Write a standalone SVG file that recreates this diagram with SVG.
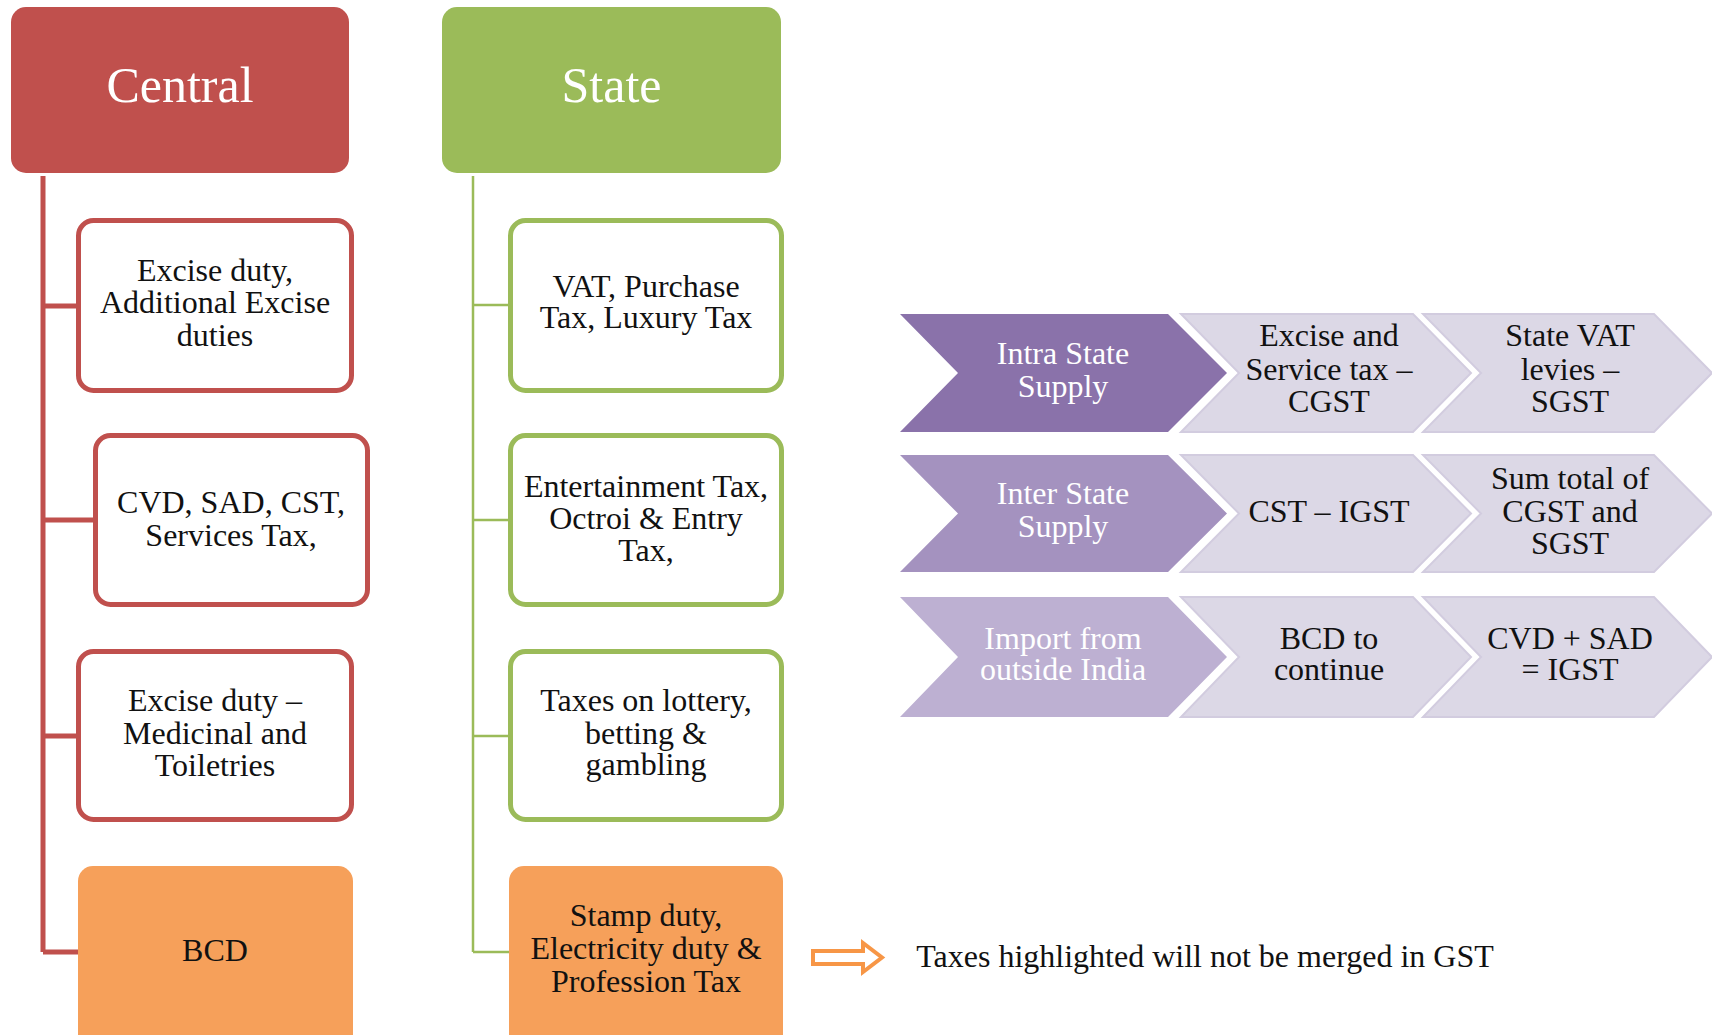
<svg xmlns="http://www.w3.org/2000/svg" width="1712" height="1035" viewBox="0 0 1712 1035">
  <style>
    text { font-family: "Liberation Serif", "Times New Roman", serif; text-anchor: middle; }
    .hdr { font-size: 50px; fill: #ffffff; }
    .lbl { font-size: 32px; fill: #111111; }
    .wlbl { font-size: 32px; fill: #ffffff; }
    .central-head { fill: #C0504D; }
    .state-head { fill: #9BBB59; }
    .c-box { fill: #ffffff; stroke: #C0504D; stroke-width: 5; }
    .s-box { fill: #ffffff; stroke: #9BBB59; stroke-width: 5; }
    .keep { fill: #F6A05A; }
    .c-line { stroke: #C0504D; stroke-width: 5; fill: none; }
    .s-line { stroke: #9BBB59; stroke-width: 2.5; fill: none; }
    .chev-1 { fill: #8A72AA; }
    .chev-2 { fill: #A492BF; }
    .chev-3 { fill: #BDB0D2; }
    .chev-l { fill: #DCD8E6; stroke: #D2CCDF; stroke-width: 2; }
  </style>

  <!-- tree connectors -->
  <g id="connectors">
    <path class="c-line" d="M43,176 V952 M43,306 H78 M43,520 H95 M43,736 H78 M43,952 H80"/>
    <path class="s-line" d="M473,176 V952 M473,305 H510 M473,520 H510 M473,736 H510 M473,952 H510"/>
  </g>

  <!-- Central column -->
  <g id="central">
    <rect class="central-head" x="11" y="7" width="338" height="166" rx="15"/>
    <text class="hdr" x="180" y="102">Central</text>
  </g>
  <g id="central-excise">
    <rect class="c-box" x="78.5" y="220.5" width="273" height="170" rx="15"/>
    <text class="lbl" x="215" y="281">Excise duty,</text>
    <text class="lbl" x="215" y="313">Additional Excise</text>
    <text class="lbl" x="215" y="346">duties</text>
  </g>
  <g id="central-cvd">
    <rect class="c-box" x="95.5" y="435.5" width="272" height="169" rx="15"/>
    <text class="lbl" x="231" y="513">CVD, SAD, CST,</text>
    <text class="lbl" x="231" y="546">Services Tax,</text>
  </g>
  <g id="central-medicinal">
    <rect class="c-box" x="78.5" y="651.5" width="273" height="168" rx="15"/>
    <text class="lbl" x="215" y="711">Excise duty –</text>
    <text class="lbl" x="215" y="744">Medicinal and</text>
    <text class="lbl" x="215" y="776">Toiletries</text>
  </g>
  <g id="central-bcd">
    <rect class="keep" x="78" y="866" width="275" height="190" rx="15"/>
    <text class="lbl" x="215" y="961">BCD</text>
  </g>

  <!-- State column -->
  <g id="state">
    <rect class="state-head" x="442" y="7" width="339" height="166" rx="15"/>
    <text class="hdr" x="611.5" y="102">State</text>
  </g>
  <g id="state-vat">
    <rect class="s-box" x="510.5" y="220.5" width="271" height="170" rx="15"/>
    <text class="lbl" x="646" y="297">VAT, Purchase</text>
    <text class="lbl" x="646" y="328">Tax, Luxury Tax</text>
  </g>
  <g id="state-entertainment">
    <rect class="s-box" x="510.5" y="435.5" width="271" height="169" rx="15"/>
    <text class="lbl" x="646" y="497">Entertainment Tax,</text>
    <text class="lbl" x="646" y="529">Octroi &amp; Entry</text>
    <text class="lbl" x="646" y="561">Tax,</text>
  </g>
  <g id="state-lottery">
    <rect class="s-box" x="510.5" y="651.5" width="271" height="168" rx="15"/>
    <text class="lbl" x="646" y="711">Taxes on lottery,</text>
    <text class="lbl" x="646" y="744">betting &amp;</text>
    <text class="lbl" x="646" y="775">gambling</text>
  </g>
  <g id="state-stamp">
    <rect class="keep" x="509" y="866" width="274" height="190" rx="15"/>
    <text class="lbl" x="646" y="926">Stamp duty,</text>
    <text class="lbl" x="646" y="959">Electricity duty &amp;</text>
    <text class="lbl" x="646" y="992">Profession Tax</text>
  </g>

  <!-- Supply rows: category chevron followed by two result chevrons -->
  <g id="intra-state">
    <polygon class="chev-1" points="900,314 1168,314 1227,373 1168,432 900,432 958,373"/>
    <text class="wlbl" x="1063" y="364">Intra State</text>
    <text class="wlbl" x="1063" y="397">Supply</text>
  </g>
  <g id="intra-cgst">
    <polygon class="chev-l" points="1181,314 1413,314 1471,373 1413,432 1181,432 1239,373"/>
    <text class="lbl" x="1329" y="346">Excise and</text>
    <text class="lbl" x="1329" y="380">Service tax –</text>
    <text class="lbl" x="1329" y="412">CGST</text>
  </g>
  <g id="intra-sgst">
    <polygon class="chev-l" points="1423,314 1654,314 1712,373 1654,432 1423,432 1481,373"/>
    <text class="lbl" x="1570" y="346">State VAT</text>
    <text class="lbl" x="1570" y="380">levies –</text>
    <text class="lbl" x="1570" y="412">SGST</text>
  </g>

  <g id="inter-state">
    <polygon class="chev-2" points="900,455 1168,455 1227,513.5 1168,572 900,572 958,513.5"/>
    <text class="wlbl" x="1063" y="504">Inter State</text>
    <text class="wlbl" x="1063" y="537">Supply</text>
  </g>
  <g id="inter-igst">
    <polygon class="chev-l" points="1181,455 1413,455 1471,513.5 1413,572 1181,572 1239,513.5"/>
    <text class="lbl" x="1329" y="522">CST – IGST</text>
  </g>
  <g id="inter-sum">
    <polygon class="chev-l" points="1423,455 1654,455 1712,513.5 1654,572 1423,572 1481,513.5"/>
    <text class="lbl" x="1570" y="489">Sum total of</text>
    <text class="lbl" x="1570" y="522">CGST and</text>
    <text class="lbl" x="1570" y="554">SGST</text>
  </g>

  <g id="import">
    <polygon class="chev-3" points="900,597 1168,597 1227,657 1168,717 900,717 958,657"/>
    <text class="wlbl" x="1063" y="649">Import from</text>
    <text class="wlbl" x="1063" y="680">outside India</text>
  </g>
  <g id="import-bcd">
    <polygon class="chev-l" points="1181,597 1413,597 1471,657 1413,717 1181,717 1239,657"/>
    <text class="lbl" x="1329" y="649">BCD to</text>
    <text class="lbl" x="1329" y="680">continue</text>
  </g>
  <g id="import-igst">
    <polygon class="chev-l" points="1423,597 1654,597 1712,657 1654,717 1423,717 1481,657"/>
    <text class="lbl" x="1570" y="649">CVD + SAD</text>
    <text class="lbl" x="1570" y="680">= IGST</text>
  </g>

  <!-- legend -->
  <g id="legend">
    <polygon points="813,951 863,951 863,943 882,957.5 863,972 863,964 813,964" fill="#ffffff" stroke="#F79646" stroke-width="4" stroke-linejoin="miter"/>
    <text class="lbl" x="1205" y="967">Taxes highlighted will not be merged in GST</text>
  </g>
</svg>
